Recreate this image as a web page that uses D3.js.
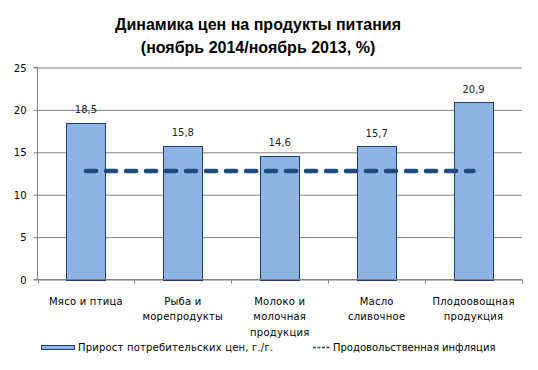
<!DOCTYPE html>
<html>
<head>
<meta charset="utf-8">
<script src="https://cdn.jsdelivr.net/npm/d3@7"></script>
<style>
	body { margin: 0; background: #fff; }
	svg text { font-family: "DejaVu Sans", Verdana, sans-serif; fill: #000; }
</style>
</head>
<body>
<div id="chart"></div>
<script>
// chart data
var categories = ["Мясо и птица", "Рыба и морепродукты", "Молоко и молочная продукция", "Масло сливочное", "Плодоовощная продукция"];
var categoryLines = [["Мясо и птица"], ["Рыба и", "морепродукты"], ["Молоко и", "молочная", "продукция"], ["Масло", "сливочное"], ["Плодоовощная", "продукция"]];
var priceGrowth = [18.5, 15.8, 14.6, 15.7, 20.9];
var foodInflation = [12.8, 12.8, 12.8, 12.8, 12.8];
var yTicks = [0, 5, 10, 15, 20, 25];
var titleLines = ["Динамика цен на продукты питания", "(ноябрь 2014/ноябрь 2013, %)"];
var legendLabels = ["Прирост потребительских цен, г./г.", "Продовольственная инфляция"];

var width = 538,
	height = 370;

var svg = d3.select("#chart")
	.append("svg")
	.attr("width", width)
	.attr("height", height);

// scales
var x = d3.scaleBand()
	.domain(categories)
	.range([37.5, 522])
	.paddingInner(0.595)
	.paddingOuter(0.2975);

var y = d3.scaleLinear()
	.domain([0, 25])
	.range([279.5, 67.5]);

// title
svg.append("g")
	.selectAll("text")
	.data(titleLines)
	.enter()
	.append("text")
	.attr("x", 258)
	.attr("y", function (d, i) { return 30 + i * 23; })
	.attr("text-anchor", "middle")
	.style("font-family", "'Liberation Sans', Arial, sans-serif")
	.style("font-weight", "bold")
	.style("font-size", "16px")
	.text(function (d) { return d; });

// gridlines + y axis
var yAxis = d3.axisLeft(y)
	.tickValues(yTicks)
	.tickSize(-(522 - 37.5))
	.tickPadding(11)
	.tickFormat(d3.format("d"));

var gy = svg.append("g")
	.attr("transform", "translate(37.5,0)")
	.call(yAxis);
gy.select(".domain").attr("stroke", "#7f7f7f").attr("d", "M-4,279.5H0V67.5H-4");
gy.selectAll(".tick line").attr("stroke", "#7f7f7f").attr("x1", -4);
gy.selectAll(".tick text")
	.style("font-size", "10px")
	.attr("dy", "0.35em");

// bars
svg.append("g")
	.selectAll("rect")
	.data(priceGrowth)
	.enter()
	.append("rect")
	.attr("x", function (d, i) { return Math.round(x(categories[i])) + 0.5; })
	.attr("y", function (d) { return Math.round(y(d)) + 0.5; })
	.attr("width", Math.round(x.bandwidth()))
	.attr("height", function (d) { return Math.round(y(0)) - Math.round(y(d)); })
	.attr("fill", "#8DB4E2")
	.attr("stroke", "#1F3D6E")
	.attr("stroke-width", 1);

// value labels
svg.append("g")
	.selectAll("text")
	.data(priceGrowth)
	.enter()
	.append("text")
	.attr("x", function (d, i) { return x(categories[i]) + x.bandwidth() / 2; })
	.attr("y", function (d) { return y(d) - 9.5; })
	.attr("text-anchor", "middle")
	.style("font-size", "10px")
	.style("fill", "#222")
	.text(function (d) { return d3.format(".1f")(d).replace(".", ","); });

// x axis
var gx = svg.append("g")
	.attr("transform", "translate(0,279.5)");
gx.append("line")
	.attr("x1", 37.5).attr("x2", 522)
	.attr("stroke", "#7f7f7f");
gx.selectAll("line.tick")
	.data(d3.range(categories.length + 1))
	.enter()
	.append("line")
	.attr("class", "tick")
	.attr("x1", function (d) { return Math.round(37.5 + d * x.step()) + 0.5; })
	.attr("x2", function (d) { return Math.round(37.5 + d * x.step()) + 0.5; })
	.attr("y1", 0).attr("y2", 4)
	.attr("stroke", "#7f7f7f");

var catText = svg.append("g")
	.selectAll("text")
	.data(categoryLines)
	.enter()
	.append("text")
	.attr("text-anchor", "middle")
	.style("font-size", "10px")
	.style("letter-spacing", "0.25px");
catText.selectAll("tspan")
	.data(function (d, i) { return d.map(function (s) { return {s: s, i: i}; }); })
	.enter()
	.append("tspan")
	.attr("x", function (d) { return x(categories[d.i]) + x.bandwidth() / 2; })
	.attr("y", function (d, j) { return 304.5 + j * 15.5; })
	.text(function (d) { return d.s; });

// inflation line
var line = d3.line()
	.x(function (d, i) { return x(categories[i]) + x.bandwidth() / 2; })
	.y(function (d) { return y(d); });

svg.append("path")
	.datum(foodInflation)
	.attr("d", line)
	.attr("fill", "none")
	.attr("stroke", "#1F4A7E")
	.attr("stroke-width", 4.5)
	.attr("stroke-linecap", "round")
	.attr("stroke-dasharray", "10.2,9.8");

// legend
var legend = svg.append("g");
legend.append("rect")
	.attr("x", 41.5).attr("y", 345.5)
	.attr("width", 33).attr("height", 4)
	.attr("fill", "#8DB4E2")
	.attr("stroke", "#1F3D6E");
legend.append("text")
	.attr("x", 78).attr("y", 351)
	.style("font-size", "10px")
	.style("letter-spacing", "0.2px")
	.text(legendLabels[0]);
legend.append("line")
	.attr("x1", 313).attr("x2", 331)
	.attr("y1", 347.5).attr("y2", 347.5)
	.attr("stroke", "#1F4A7E")
	.attr("stroke-width", 1.5)
	.attr("stroke-dasharray", "3,1.5");
legend.append("text")
	.attr("x", 333).attr("y", 351)
	.style("font-size", "10px")
	.text(legendLabels[1]);
</script>
</body>
</html>
